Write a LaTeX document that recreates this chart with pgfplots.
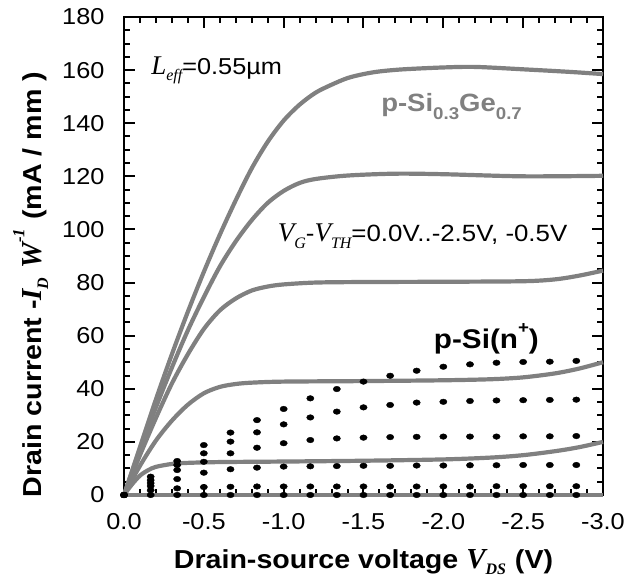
\documentclass[border=0pt]{standalone}
\usepackage{fontspec}
\setmainfont{Liberation Sans}[FakeStretch=1.1]
\newfontfamily\tnr{Liberation Serif}
\usepackage{pgfplots}
\pgfplotsset{compat=1.18}
\usepackage{pgfplotstable}
\definecolor{sige}{RGB}{128,128,128}
\newcommand{\iv}[1]{{\tnr\itshape #1}}
\newcommand{\sub}[1]{\raisebox{-0.45ex}{\fontsize{16}{16}\selectfont\tnr\itshape #1}}

% p-Si(n+) measured points, columns = V_G-V_TH from -2.5 V to 0 V
\pgfplotstableread{
V       a     b     c     d     e    f
0.000   0.0   0.0   0.0   0.0   0.0  0
-0.167  6.9   5.6   4.5   3.4   1.8  0
-0.333  12.8  11.3  9.4   6.0   2.5  0
-0.500  18.8  15.7  12.5  8.4   3.0  0
-0.667  23.5  20.1  15.7  9.7   3.1  0
-0.833  28.2  23.6  17.8  10.3  3.2  0
-1.000  32.4  26.6  19.5  10.7  3.2  0
-1.167  36.4  29.2  20.7  10.8  3.2  0
-1.333  39.9  31.4  21.3  10.9  3.2  0
-1.500  42.7  33.0  21.6  11.0  3.2  0
-1.667  44.9  33.9  21.8  11.0  3.2  0
-1.833  46.8  34.8  21.9  11.1  3.2  0
-2.000  48.3  35.1  22.0  11.1  3.2  0
-2.167  49.2  35.4  22.0  11.2  3.2  0
-2.333  49.8  35.6  22.0  11.2  3.3  0
-2.500  50.1  35.7  22.1  11.3  3.3  0
-2.667  50.2  35.8  22.1  11.3  3.3  0
-2.833  50.5  35.9  22.2  11.3  3.3  0
}\psi

\begin{document}
\begin{tikzpicture}
\path[use as bounding box] (-124pt,-92pt) rectangle (503pt,495pt);
\begin{axis}[
    at={(0,0)}, anchor=south west,
    width=479pt, height=478pt, scale only axis,
    x dir=reverse,
    xmin=-3, xmax=0, ymin=0, ymax=180,
    xtick={0,-0.5,-1,-1.5,-2,-2.5,-3},
    xticklabels={0.0,-0.5,-1.0,-1.5,-2.0,-2.5,-3.0},
    ytick={0,20,...,180},
    minor x tick num=4, minor y tick num=3,
    tick align=inside,
    major tick length=11pt, minor tick length=6pt,
    every tick/.style={line width=2pt, black},
    axis line style={line width=2.4pt},
    /pgf/number format/assume math mode=true,
    tick label style={font=\fontsize{23}{23}\selectfont},
    xticklabel style={yshift=-15pt},
    yticklabel style={xshift=-16pt},
    xlabel={\fontsize{26}{26}\selectfont\bfseries Drain-source voltage \fontsize{29}{29}\selectfont\iv{V}\sub{DS} \fontsize{26}{26}\selectfont(V)},
    ylabel={\fontsize{26}{26}\selectfont\bfseries Drain current -\fontsize{29}{29}\selectfont\iv{I}\sub{D} \iv{W}\raisebox{1.1ex}{\fontsize{17}{17}\selectfont\iv{-1}} \fontsize{26}{26}\selectfont(mA / mm )},
    xlabel style={at={(axis description cs:0.5,0)}, anchor=base, yshift=-73pt},
    ylabel style={at={(axis description cs:-0.195,0.44)}, anchor=center},
    clip=false,
  ]
  % p-Si0.3Ge0.7, V_G-V_TH = -2.5 ... 0 V
  \addplot[sige, line width=4.2pt, smooth] coordinates {
    (0,0) (-0.1,18) (-0.2,36) (-0.3,53) (-0.4,69) (-0.5,84) (-0.6,98)
    (-0.7,111) (-0.8,123) (-0.9,133) (-1.0,141) (-1.1,147) (-1.2,151.5)
    (-1.3,154.5) (-1.4,157) (-1.5,158.5) (-1.6,159.5) (-1.75,160.3)
    (-2.0,161) (-2.2,161.2) (-2.5,160.3) (-2.8,159.3) (-3.0,158.5)};
  \addplot[sige, line width=4.2pt, smooth] coordinates {
    (0,0) (-0.1,17) (-0.2,33) (-0.3,48) (-0.4,62) (-0.5,74.5) (-0.6,86)
    (-0.7,95.5) (-0.8,103.5) (-0.9,110) (-1.0,114.5) (-1.1,117.5)
    (-1.2,119) (-1.4,120.3) (-1.7,121) (-2.0,120.8) (-2.5,120)
    (-3.0,120.2)};
  \addplot[sige, line width=4.2pt, smooth] coordinates {
    (0,0) (-0.1,15) (-0.2,29) (-0.3,42) (-0.4,53) (-0.5,62.5) (-0.6,69.5)
    (-0.7,74) (-0.8,77) (-0.9,78.5) (-1.0,79.3) (-1.2,80) (-1.5,80.2)
    (-2.0,80.3) (-2.5,80.5) (-2.7,81.2) (-2.85,82.6) (-3.0,84.5)};
  \addplot[sige, line width=4.2pt, smooth] coordinates {
    (0,0) (-0.1,11) (-0.2,20.5) (-0.3,28) (-0.4,34) (-0.5,38.3) (-0.6,40.7)
    (-0.7,41.8) (-0.8,42.3) (-1.0,42.7) (-1.5,42.9) (-2.0,43.2)
    (-2.3,43.6) (-2.5,44.3) (-2.7,45.8) (-2.85,47.6) (-3.0,50)};
  \addplot[sige, line width=4.2pt, smooth] coordinates {
    (0,0) (-0.05,4) (-0.1,7.3) (-0.15,9.3) (-0.2,10.6) (-0.3,11.7)
    (-0.4,12.1) (-0.6,12.4) (-1.0,12.6) (-1.5,12.9) (-2.0,13.4)
    (-2.3,14.1) (-2.5,15) (-2.7,16.5) (-2.85,18) (-3.0,20)};
  \addplot[sige, line width=4.2pt] coordinates {(0,0) (-3.0,0)};
  % p-Si(n+)
  \foreach \c in {a,b,c,d,e,f}{
    \addplot[only marks, mark=*, mark size=2.8pt, black,
      mark options={xscale=1.3}] table[x=V, y=\c] {\psi};
  }
  \node[anchor=base west, inner sep=0] at (axis cs:-0.17,158.5)
    {\fontsize{27}{27}\selectfont\iv{L}\sub{eff}\fontsize{23}{23}\selectfont=0.55\textmu m};
  \node[anchor=base west, inner sep=0, text=sige] at (axis cs:-1.61,144.5)
    {\fontsize{25}{25}\selectfont\bfseries p-Si\raisebox{-0.6ex}{\fontsize{17}{17}\selectfont 0.3}Ge\raisebox{-0.6ex}{\fontsize{17}{17}\selectfont 0.7}};
  \node[anchor=base west, inner sep=0] at (axis cs:-0.9625,95.4)
    {\fontsize{27}{27}\selectfont\iv{V}\sub{G}\fontsize{23.5}{23.5}\selectfont-\fontsize{27}{27}\selectfont\iv{V}\sub{TH}\fontsize{23.5}{23.5}\selectfont=0.0V..-2.5V, -0.5V};
  \node[anchor=base west, inner sep=0] at (axis cs:-1.94,55.3)
    {\fontsize{27}{27}\selectfont\bfseries p-Si(n\raisebox{1.0ex}{\fontsize{17}{17}\selectfont +})};
\end{axis}
\end{tikzpicture}
\end{document}
